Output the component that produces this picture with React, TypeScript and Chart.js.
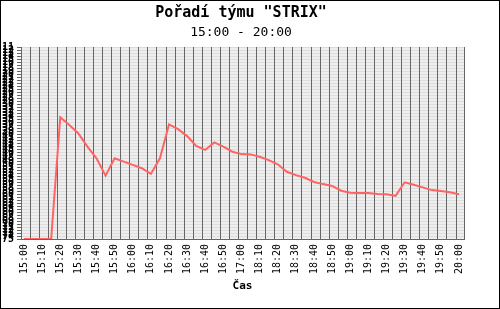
import { useEffect, useRef } from "react";
import { Chart, registerables } from "chart.js";

Chart.register(...registerables);

const TIMES = [
  "15:00", "15:05", "15:10", "15:15", "15:20", "15:25", "15:30", "15:35", "15:40", "15:45",
  "15:50", "15:55", "16:00", "16:05", "16:10", "16:15", "16:20", "16:25", "16:30", "16:35",
  "16:40", "16:45", "16:50", "16:55", "17:00", "18:05", "18:10", "18:15", "18:20", "18:25",
  "18:30", "18:35", "18:40", "18:45", "18:50", "18:55", "19:00", "19:05", "19:10", "19:15",
  "19:20", "19:25", "19:30", "19:35", "19:40", "19:45", "19:50", "19:55", "20:00",
];

const RANKS = [
  75, 75, 75, 75, 34.4, 37.0, 39.8, 44.2, 48.1, 53.9,
  48.1, 49.2, 50.3, 51.4, 53.3, 48.1, 36.8, 38.4, 40.7, 44.0,
  45.3, 42.8, 44.2, 45.9, 46.7, 46.8, 47.6, 48.7, 50.1, 52.6,
  53.7, 54.6, 56.0, 56.7, 57.3, 58.9, 59.6, 59.7, 59.7, 60.0,
  60.1, 60.6, 56.1, 56.9, 57.8, 58.7, 59.0, 59.4, 60.1,
];

const Y_MIN = 11;
const Y_MAX = 75;
const TITLE = 'Pořadí týmu "STRIX"';
const SUBTITLE = "15:00 - 20:00";
const X_TITLE = "Čas";

const X_MIN = -0.33;
const X_MAX = 48.55;

const FONT = "'DejaVu Sans Mono', 'Liberation Mono', monospace";

export default function App() {
  const ref = useRef<HTMLCanvasElement | null>(null);

  useEffect(() => {
    document.body.style.margin = "0";
    const canvas = ref.current;
    if (!canvas) return;

    const yTicks: number[] = [];
    for (let v = Y_MIN; v <= Y_MAX; v++) yTicks.push(v);
    const gridVals: number[] = [];
    for (let k = 0; k < TIMES.length; k++) gridVals.push(X_MIN + k);

    const framePlugin = {
      id: "frame",
      beforeDraw(chart: any) {
        const { ctx, chartArea } = chart;
        ctx.save();
        ctx.fillStyle = "#ffffff";
        ctx.fillRect(0, 0, chart.width, chart.height);
        ctx.fillStyle = "#eeeeee";
        ctx.fillRect(chartArea.left, chartArea.top, chartArea.right - chartArea.left, chartArea.bottom - chartArea.top);
        ctx.restore();
      },
      afterDraw(chart: any) {
        const { ctx, chartArea } = chart;
        ctx.save();
        ctx.strokeStyle = "#666666";
        ctx.lineWidth = 1;
        ctx.beginPath();
        const rx = Math.round(chartArea.right) + 0.5;
        ctx.moveTo(rx, chartArea.top);
        ctx.lineTo(rx, chartArea.bottom + 1);
        ctx.stroke();
        ctx.strokeStyle = "#000000";
        ctx.strokeRect(0.5, 0.5, chart.width - 1, chart.height - 1);
        ctx.restore();
      },
    };

    const chart = new Chart(canvas, {
      type: "line",
      data: {
        datasets: [
          {
            data: RANKS.map((r, i) => ({ x: i, y: r })),
            borderColor: "#ff6464",
            borderWidth: 2,
            pointRadius: 0,
            tension: 0,
            fill: false,
          },
        ],
      },
      options: {
        animation: false,
        responsive: false,
        layout: { padding: { left: 0, right: 18, top: 0, bottom: 0 } },
        plugins: {
          legend: { display: false },
          tooltip: { enabled: false },
          title: {
            display: true,
            text: TITLE,
            color: "#000",
            font: { family: FONT, size: 15, weight: "bold", lineHeight: 1.2 },
            padding: { top: 4, bottom: 2 },
          },
          subtitle: {
            display: true,
            text: SUBTITLE,
            color: "#000",
            font: { family: FONT, size: 13, weight: "normal", lineHeight: 1.2 },
            padding: { top: 1, bottom: 6.4 },
          },
        },
        scales: {
          x: {
            type: "linear",
            position: "bottom",
            min: X_MIN,
            max: X_MAX,
            afterBuildTicks: (s: any) => {
              s.ticks = TIMES.map((_, i) => ({ value: i }));
            },
            afterFit: (s: any) => {
              s.height = 70;
            },
            ticks: {
              autoSkip: false,
              minRotation: 90,
              maxRotation: 90,
              padding: 5,
              color: "#000",
              font: { family: FONT, size: 10 },
              callback: (v: any) => (Number(v) % 2 === 0 ? TIMES[Number(v)] : ""),
            },
            grid: { display: false, drawTicks: false },
            border: { display: true, color: "#666666", width: 1 },
            title: {
              display: true,
              text: X_TITLE,
              color: "#000",
              font: { family: FONT, size: 11, weight: "bold", lineHeight: 1.2 },
              padding: { top: 0, bottom: 16 },
            },
          },
          xg: {
            type: "linear",
            position: "bottom",
            min: X_MIN,
            max: X_MAX,
            afterBuildTicks: (s: any) => {
              s.ticks = gridVals.map((v) => ({ value: v }));
            },
            afterFit: (s: any) => {
              s.height = 0;
            },
            ticks: { display: false },
            grid: { color: "#666666", lineWidth: 1, drawTicks: false, z: -1 },
            border: { display: false },
          },
          y: {
            type: "linear",
            reverse: true,
            min: Y_MIN,
            max: Y_MAX,
            afterBuildTicks: (s: any) => {
              s.ticks = yTicks.map((v) => ({ value: v }));
            },
            afterFit: (s: any) => {
              s.width = 21;
            },
            ticks: {
              autoSkip: false,
              padding: 3,
              color: "#000",
              font: { family: FONT, size: 10, weight: "bold" },
            },
            grid: { color: "#dcdcdc", tickColor: "#666666", tickLength: 4, lineWidth: 1, z: -2 },
            border: { color: "#666666", width: 1 },
          },
          yr: {
            type: "linear",
            position: "right",
            min: 0,
            max: 1,
            afterFit: (s: any) => {
              s.width = 18;
            },
            ticks: { display: false },
            grid: { display: false, drawTicks: false },
            border: { display: false },
          },
        },
      } as any,
      plugins: [framePlugin],
    });

    return () => chart.destroy();
  }, []);

  return (
    <div style={{ width: 500, height: 309 }}>
      <canvas ref={ref} width={500} height={309} style={{ display: "block" }} />
    </div>
  );
}
